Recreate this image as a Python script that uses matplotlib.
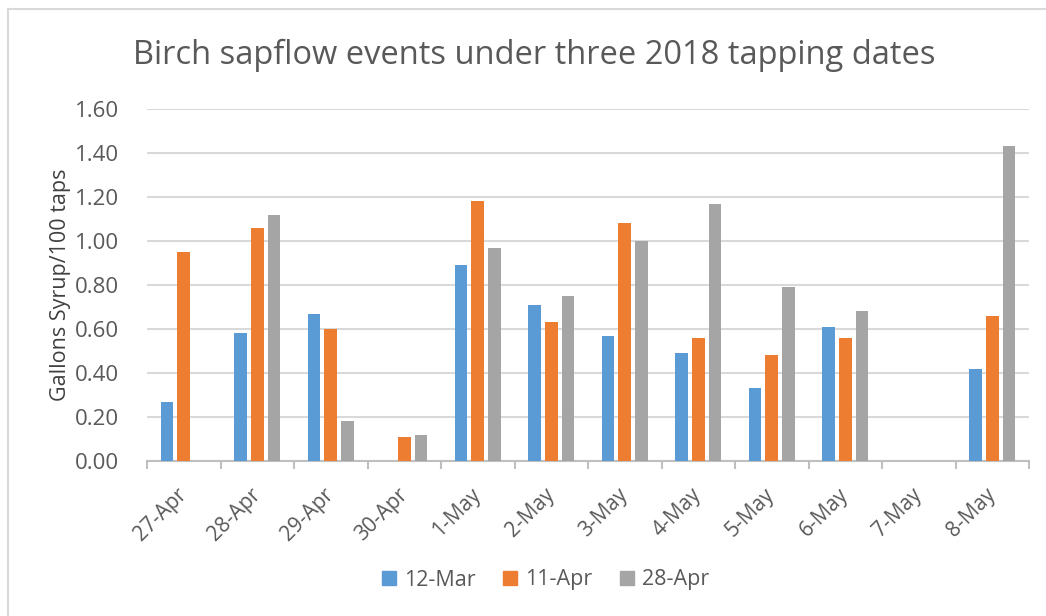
import numpy as np
import matplotlib.pyplot as plt
from matplotlib.lines import Line2D

plt.rcParams['font.family'] = ['Open Sans', 'DejaVu Sans']

dates = ['27-Apr', '28-Apr', '29-Apr', '30-Apr', '1-May', '2-May',
         '3-May', '4-May', '5-May', '6-May', '7-May', '8-May']
series_names = ['12-Mar', '11-Apr', '28-Apr']
mar12 = [0.27, 0.58, 0.67, 0, 0.89, 0.71, 0.57, 0.49, 0.33, 0.61, 0, 0.42]
apr11 = [0.95, 1.06, 0.60, 0.11, 1.18, 0.63, 1.08, 0.56, 0.48, 0.56, 0, 0.66]
apr28 = [0, 1.12, 0.18, 0.12, 0.97, 0.75, 1.00, 1.17, 0.79, 0.68, 0, 1.43]
colors = ['#5B9BD5', '#ED7D31', '#A5A5A5']

text_col = '#595959'
grid_col = '#D9D9D9'

fig = plt.figure(figsize=(10.46, 6.16), dpi=100)
ax = fig.add_axes([147/1046, 1 - 461/616, (1029 - 147)/1046, (461 - 109)/616])

x = np.arange(len(dates))
w = 0.175
step = 0.227
for i, (vals, c) in enumerate(zip([mar12, apr11, apr28], colors)):
    ax.bar(x + (i - 1)*step, vals, width=w, color=c, label=series_names[i], zorder=3)

ax.set_xlim(-0.5, len(dates) - 0.5)
ax.set_ylim(0, 1.6)
ax.set_yticks(np.arange(0, 1.61, 0.2))
ax.set_yticklabels([f'{v:.2f}' for v in np.arange(0, 1.61, 0.2)])
ax.yaxis.grid(True, color=grid_col, linewidth=1.5, zorder=0)
ax.tick_params(axis='y', length=0, pad=20, labelsize=16, labelcolor=text_col)

# category labels + separator ticks
ax.set_xticks(x)
ax.set_xticklabels(dates, rotation=45, ha='right', va='center', rotation_mode='anchor')
ax.tick_params(axis='x', which='major', length=0, pad=22, labelsize=15, labelcolor=text_col)
ax.set_xticks(np.arange(-0.5, len(dates)), minor=True)
ax.tick_params(axis='x', which='minor', length=6, width=1.5, color='#BFBFBF')

for s in ['top', 'right', 'left']:
    ax.spines[s].set_visible(False)
ax.spines['bottom'].set_color('#BFBFBF')
ax.spines['bottom'].set_linewidth(1.5)

ax.set_ylabel('Gallons Syrup/100 taps', fontsize=15.5, color='#404040', labelpad=3)

fig.text(534/1046, 1 - 55/616, 'Birch sapflow events under three 2018 tapping dates',
         ha='center', va='center', fontsize=23.5, color=text_col)

handles = [Line2D([], [], marker='s', linestyle='none', markersize=10,
                  markerfacecolor=c, markeredgecolor=c) for c in colors]
fig.legend(handles, series_names, loc='center', bbox_to_anchor=(545/1046, 1 - 580/616),
           ncol=3, frameon=False, fontsize=15.5, labelcolor=text_col,
           handlelength=0.8, handletextpad=0.3, columnspacing=1.2)

# chart border
fig.add_artist(Line2D([8/1046, 1], [1 - 9/616, 1 - 9/616], transform=fig.transFigure,
                      color=grid_col, linewidth=1.5))
fig.add_artist(Line2D([8/1046, 8/1046], [0, 1 - 9/616], transform=fig.transFigure,
                      color=grid_col, linewidth=1.5))

fig.savefig('out.png', dpi=100)
